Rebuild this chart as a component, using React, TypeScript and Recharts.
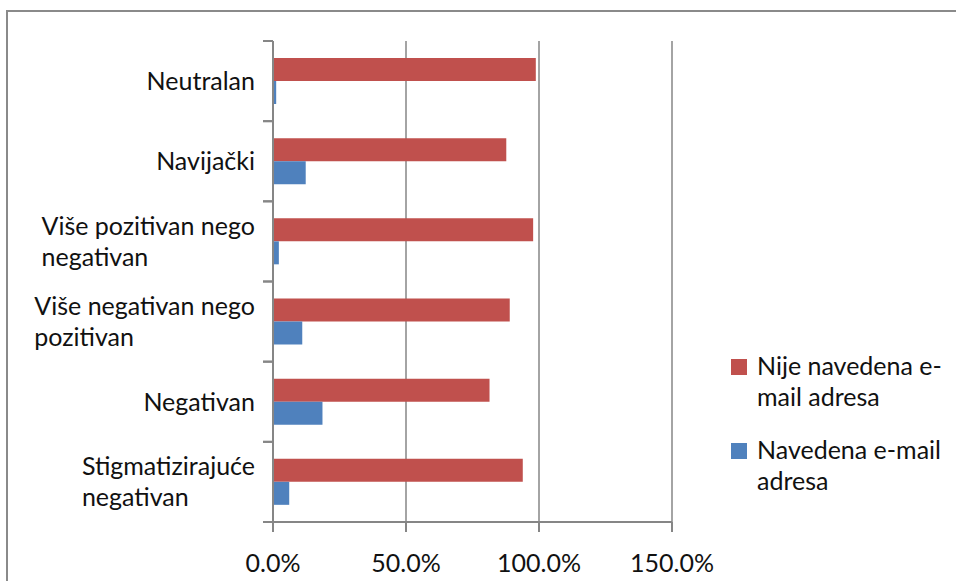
import React from "react";
import { BarChart, Bar, XAxis, YAxis, CartesianGrid } from "recharts";

const categories = [
  "Neutralan",
  "Navijački",
  "Više pozitivan nego negativan",
  "Više negativan nego pozitivan",
  "Negativan",
  "Stigmatizirajuće negativan",
];
const nijeNavedena = [0.988, 0.877, 0.978, 0.89, 0.814, 0.939];
const navedena = [0.012, 0.123, 0.022, 0.11, 0.186, 0.061];
const seriesNames = ["Nije navedena e-mail adresa", "Navedena e-mail adresa"];
const xTicks = [0, 0.5, 1, 1.5];

const RED = "#C0504D";
const BLUE = "#4F81BD";
const AXIS = "#868686";
const FONT = "Lato, 'Open Sans', sans-serif";
const FS = 25;

const W = 956;
const H = 581;
const M = { top: 41, right: 284, bottom: 0, left: 0 };
const XH = 59;
const YW = 273;
const BAND = (H - M.top - XH) / categories.length;

const data = categories.map((c, i) => ({
  name: c,
  nije: nijeNavedena[i],
  nav: navedena[i],
}));

function wrap(text: string, max: number): string[] {
  const tokens = text.match(/[^\s-]+-?\s*|\s+/g) || [text];
  const lines: string[] = [];
  let cur = "";
  for (const t of tokens) {
    if ((cur + t).trimEnd().length > max && cur.trim().length > 0) {
      lines.push(cur.trim());
      cur = t;
    } else cur += t;
  }
  if (cur.trim()) lines.push(cur.trim());
  return lines;
}

let ctx: CanvasRenderingContext2D | null = null;
function measure(s: string): number {
  try {
    if (!ctx) ctx = document.createElement("canvas").getContext("2d");
    if (ctx) {
      ctx.font = `${FS}px Lato`;
      return ctx.measureText(s).width;
    }
  } catch (e) {}
  return s.length * FS * 0.5;
}

const YTick = (props: any) => {
  const { y, payload } = props;
  const lines = wrap(String(payload.value), 19);
  const right = YW - 18;
  const maxW = Math.max(...lines.map(measure));
  const left = right - maxW;
  const lh = 31;
  return (
    <g>
      <line x1={YW - 10} x2={YW} y1={y - BAND / 2} y2={y - BAND / 2} stroke={AXIS} strokeWidth={2} />
      <line x1={YW - 10} x2={YW} y1={y + BAND / 2} y2={y + BAND / 2} stroke={AXIS} strokeWidth={2} />
      {lines.map((l, i) => (
        <text
          key={i}
          x={left}
          y={y + (i - (lines.length - 1) / 2) * lh + 9}
          textAnchor="start"
          fontFamily={FONT}
          fontSize={FS}
          fill="#111"
        >
          {l}
        </text>
      ))}
    </g>
  );
};

const LegendBox = () => {
  const colors = [RED, BLUE];
  return (
    <div
      style={{
        position: "absolute",
        left: 731,
        top: 350,
        width: 222,
        fontFamily: FONT,
        fontSize: FS,
        color: "#111",
        lineHeight: "31px",
      }}
    >
      {seriesNames.map((n, i) => (
        <div key={n} style={{ display: "flex", alignItems: "flex-start", marginBottom: 22 }}>
          <div style={{ width: 16, height: 16, background: colors[i], marginTop: 9, marginRight: 10, flexShrink: 0 }} />
          <div>
            {wrap(n, 16).map((l, j) => (
              <div key={j} style={{ whiteSpace: "nowrap" }}>{l}</div>
            ))}
          </div>
        </div>
      ))}
    </div>
  );
};

export default function App() {
  return (
    <div style={{ position: "absolute", left: 0, top: 0, width: W, height: H, overflow: "hidden", background: "#fff" }}>
      <div
        style={{
          position: "absolute",
          left: 6,
          top: 10,
          width: 1200,
          height: 800,
          borderLeft: "2px solid #8a8a8a",
          borderTop: "2px solid #8a8a8a",
        }}
      />
      <div style={{ position: "absolute", left: 0, top: 0 }}>
        <BarChart width={W} height={H} data={data} layout="vertical" margin={M} barGap={0}>
          <CartesianGrid horizontal={false} vertical={true} stroke={AXIS} strokeWidth={1.5} strokeDasharray="" />
          <XAxis
            type="number"
            domain={[0, 1.5]}
            ticks={xTicks}
            height={XH}
            tickFormatter={(v: number) => `${(v * 100).toFixed(1)}%`}
            axisLine={{ stroke: AXIS, strokeWidth: 2 }}
            tickLine={{ stroke: AXIS, strokeWidth: 2 }}
            tickSize={10}
            tickMargin={22}
            tick={{ fontFamily: FONT, fontSize: FS, fill: "#111" }}
            interval={0}
          />
          <YAxis
            type="category"
            dataKey="name"
            width={YW}
            axisLine={{ stroke: AXIS, strokeWidth: 2 }}
            tickLine={false}
            tick={<YTick />}
            interval={0}
          />
          <Bar dataKey="nije" name={seriesNames[0]} fill={RED} barSize={23} isAnimationActive={false} />
          <Bar dataKey="nav" name={seriesNames[1]} fill={BLUE} barSize={23} isAnimationActive={false} />
        </BarChart>
      </div>
      <LegendBox />
    </div>
  );
}
